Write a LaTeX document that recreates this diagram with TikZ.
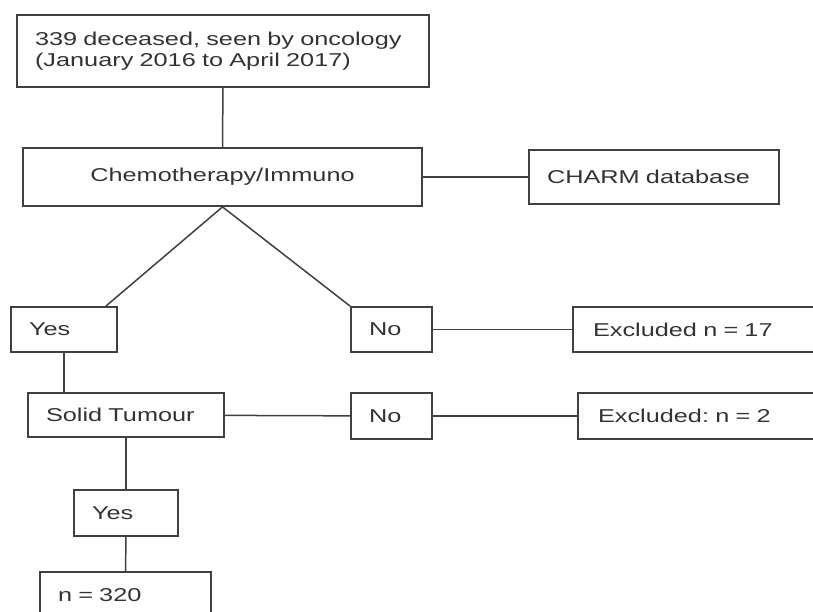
\documentclass[tikz,border=0pt]{standalone}
\usepackage{fontspec}
\setmainfont{Liberation Sans}[FakeStretch=1.36]
\frenchspacing
\begin{document}
\begin{tikzpicture}[x=0.5pt,y=-0.5pt]
		\tikzstyle{box}=[rectangle,draw=black!75,line width=0.9pt,inner xsep=9pt,inner ysep=0pt,align=left,text=black!80,font=\fontsize{9.3}{10.5}\selectfont]
		\tikzstyle{edge}=[draw, line width=0.75pt, black!75]
		\useasboundingbox (0,0) rectangle (813,611);
		\clip (0,0) rectangle (813,611);
		\begin{scope}
			\node [box,text width=188pt,minimum height=36pt] (start) at (223,51) {339 deceased, seen by oncology\\(January 2016 to April 2017)};
			\node [box,text width=181.5pt,minimum height=29pt,align=center] (chemo) at (222.5,177) {Chemotherapy/Immuno};
			\node [box,text width=107pt,minimum height=27pt] (charm) at (654,177) {CHARM database};
			\node [box,text width=35pt,minimum height=22.5pt] (yes1) at (64,329.5) {Yes};
			\node [box,text width=22.5pt,minimum height=22.5pt] (no1) at (391.5,329.5) {No};
			\node [box,text width=130pt,minimum height=22.5pt,inner xsep=10pt] (excl1) at (723,329.5) {Excluded n = 17};
			\node [box,text width=80pt,minimum height=22pt] (solid) at (126,415) {Solid Tumour};
			\node [box,text width=22.5pt,minimum height=23pt] (no2) at (391.5,416) {No};
			\node [box,text width=130pt,minimum height=23pt,inner xsep=10pt] (excl2) at (728,416) {Excluded: n = 2};
			\node [box,text width=34pt,minimum height=23pt] (yes2) at (126,513) {Yes};
			\node [box,text width=67.5pt,minimum height=23pt] (n320) at (125.5,595) {n = 320};
			\path[edge] (start) edge (chemo);
			\path[edge] (chemo) edge (charm);
			\path[edge] (chemo.south) edge ([xshift=-6pt]yes1.north east);
			\path[edge] (chemo.south) edge (no1.north west);
			\path[edge] (no1) edge (excl1);
			\path[edge] (yes1.south) edge (yes1.south |- solid.north);
			\path[edge] (solid) edge (no2);
			\path[edge] (no2) edge (excl2);
			\path[edge] (solid) edge (yes2);
			\path[edge] (yes2) edge (n320);
		\end{scope}
	\end{tikzpicture}
\end{document}
